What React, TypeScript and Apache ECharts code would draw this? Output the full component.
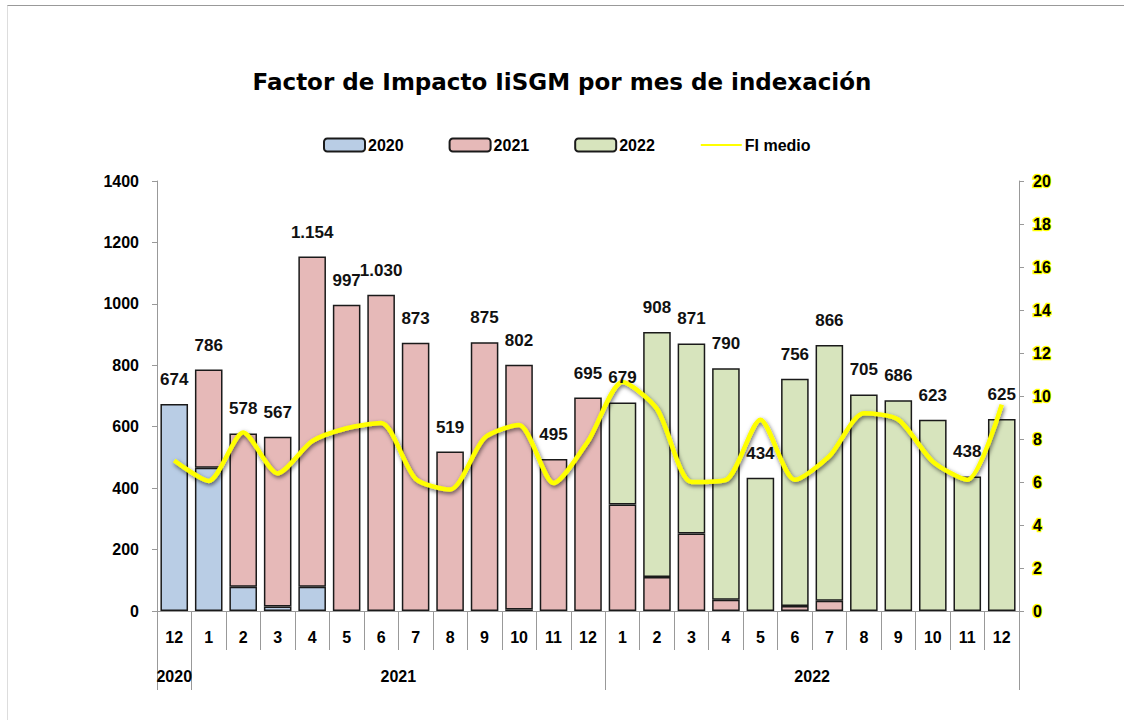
import React, { useEffect, useRef } from "react";
import * as echarts from "echarts";

const months = ["12", "1", "2", "3", "4", "5", "6", "7", "8", "9", "10", "11", "12", "1", "2", "3", "4", "5", "6", "7", "8", "9", "10", "11", "12"];
const years = ["2020", "2021", "2022"];
// index where each year's label sits (group centre) and group start indices
const yearLabelIndex = [0, 6, 18];
const yearGroupStarts = [0, 1, 13];

const pub2020 = [674, 466, 79, 15, 79, null, null, null, null, null, 5, null, null, null, null, null, null, null, null, null, null, null, null, null, null];
const pub2021 = [null, 320, 499, 552, 1075, 997, 1030, 873, 519, 875, 797, 495, 695, 347, 111, 252, 37, null, 16, 33, null, null, null, null, null];
const pub2022 = [null, null, null, null, null, null, null, null, null, null, null, null, null, 332, 797, 619, 753, 434, 740, 833, 705, 686, 623, 438, 625];
const fiMedio = [7.0, 6.05, 8.3, 6.4, 7.9, 8.5, 8.75, 6.15, 5.65, 8.05, 8.65, 5.95, 7.9, 10.65, 9.4, 6.0, 6.1, 8.9, 6.1, 7.2, 9.2, 8.9, 6.95, 6.1, 9.6];

const leftTicks = { min: 0, max: 1400, interval: 200 };
const rightTicks = { min: 0, max: 20, interval: 2 };

const FONT = "'Liberation Sans', Arial, sans-serif";

function fmt(v: number): string {
  return String(v).replace(/\B(?=(\d{3})+(?!\d))/g, ".");
}

export default function App() {
  const ref = useRef<HTMLDivElement>(null);
  useEffect(() => {
    if (!ref.current) return;
    const chart = echarts.init(ref.current, null, { renderer: "svg" });
    const totals = months.map((_, i) => (pub2020[i] || 0) + (pub2021[i] || 0) + (pub2022[i] || 0));
    const barBase = {
      type: "bar",
      stack: "total",
      barCategoryGap: "20%",
      xAxisIndex: 0,
      yAxisIndex: 0,
    };
    chart.setOption({
      animation: false,
      backgroundColor: "#ffffff",
      title: {
        text: "Factor de Impacto IiSGM por mes de indexación",
        left: "center",
        top: 65,
        textStyle: { fontFamily: "'DejaVu Sans', sans-serif", fontWeight: "bold", fontSize: 23, color: "#000" },
      },
      legend: {
        data: ["2020", "2021", "2022", { name: "FI medio", itemStyle: { opacity: 0 } }],
        top: 132,
        left: 318,
        itemWidth: 41,
        itemHeight: 13,
        itemGap: 45,
        textStyle: { fontFamily: FONT, fontWeight: "bold", fontSize: 16, color: "#000", padding: [0, 0, 0, -2] },
      },
      grid: { left: 157, right: 105, top: 181, bottom: 109, containLabel: false },
      xAxis: [
        {
          type: "category",
          data: months,
          position: "bottom",
          axisLine: { show: true, lineStyle: { color: "#999", width: 1 } },
          axisTick: { show: true, interval: 0, length: 39, lineStyle: { color: "#999" } },
          axisLabel: { interval: 0, margin: 18, fontFamily: FONT, fontWeight: "bold", fontSize: 16, color: "#000" },
        },
        {
          type: "category",
          data: months,
          position: "bottom",
          offset: 39,
          axisLine: { show: false },
          axisTick: { show: false },
          axisLabel: {
            interval: 0,
            margin: 18,
            fontFamily: FONT,
            fontWeight: "bold",
            fontSize: 16,
            color: "#000",
            formatter: (_v: string, i: number) => {
              const k = yearLabelIndex.indexOf(i);
              if (k < 0) return "";
              return k === 0 ? years[k] : "{s|" + years[k] + "}";
            },
            rich: {
              s: { padding: [0, 0, 0, 34.5], fontFamily: FONT, fontWeight: "bold", fontSize: 16, color: "#000" },
            },
          },
        },
      ],
      yAxis: [
        {
          type: "value",
          ...leftTicks,
          position: "left",
          splitLine: { show: false },
          axisLine: { show: true, lineStyle: { color: "#999" } },
          axisTick: { show: true, inside: false, length: 5, lineStyle: { color: "#999" } },
          axisLabel: {
            margin: 18,
            fontFamily: FONT,
            fontWeight: "bold",
            fontSize: 16,
            color: "#000",
            formatter: (v: number) => String(v),
          },
        },
        {
          type: "value",
          ...rightTicks,
          position: "right",
          splitLine: { show: false },
          axisLine: { show: true, lineStyle: { color: "#999" } },
          axisTick: { show: true, inside: false, length: 5, lineStyle: { color: "#999" } },
          axisLabel: {
            margin: 14,
            fontFamily: FONT,
            fontWeight: "bold",
            fontSize: 16,
            color: "#000",
            textBorderColor: "#ffff00",
            textBorderWidth: 2.5,
          },
        },
      ],
      series: [
        {
          ...barBase,
          name: "2020",
          data: pub2020,
          itemStyle: { color: "#B9CDE5", borderColor: "#1a1a1a", borderWidth: 1.5 },
        },
        {
          ...barBase,
          name: "2021",
          data: pub2021,
          itemStyle: { color: "#E6B9B8", borderColor: "#1a1a1a", borderWidth: 1.5 },
        },
        {
          ...barBase,
          name: "2022",
          data: pub2022,
          itemStyle: { color: "#D7E4BD", borderColor: "#1a1a1a", borderWidth: 1.5 },
        },
        {
          type: "scatter",
          name: "totales",
          data: totals,
          xAxisIndex: 0,
          yAxisIndex: 0,
          symbolSize: 0,
          silent: true,
          z: 5,
          itemStyle: { opacity: 1 },
          label: {
            show: true,
            position: "top",
            distance: 16,
            formatter: (p: any) => fmt(p.value),
            fontFamily: FONT,
            fontWeight: "bold",
            fontSize: 17,
            color: "#111",
          },
        },
        {
          type: "line",
          name: "FI medio",
          data: fiMedio,
          xAxisIndex: 0,
          yAxisIndex: 1,
          symbol: "none",
          smooth: 0.25,
          z: 4,
          lineStyle: {
            color: "#FFFF00",
            width: 4.5,
            shadowColor: "rgba(0,0,0,0.6)",
            shadowBlur: 4,
            shadowOffsetX: 1,
            shadowOffsetY: 2,
          },
          itemStyle: { color: "#FFFF00" },
        },
      ],
    });

    // Year-group separators: long ticks below the month row, placed from the category scale
    const c0 = chart.convertToPixel({ xAxisIndex: 0 }, 0) as number;
    const c1 = chart.convertToPixel({ xAxisIndex: 0 }, 1) as number;
    const band = c1 - c0;
    const yBase = chart.convertToPixel({ yAxisIndex: 0 }, 0) as number;
    const boundaries = yearGroupStarts.map((i) => (chart.convertToPixel({ xAxisIndex: 0 }, i) as number) - band / 2);
    boundaries.push((chart.convertToPixel({ xAxisIndex: 0 }, months.length - 1) as number) + band / 2);
    chart.setOption({
      graphic: boundaries.map((x) => ({
        type: "line",
        shape: { x1: Math.round(x) + 0.5, y1: yBase + 39, x2: Math.round(x) + 0.5, y2: yBase + 79 },
        style: { stroke: "#999", lineWidth: 1 },
        silent: true,
      })),
    });
    return () => chart.dispose();
  }, []);
  return (
    <div style={{ position: "fixed", left: 0, top: 0, width: 1124, height: 720, background: "#fff" }}>
      <div ref={ref} style={{ position: "absolute", left: 0, top: 0, width: 1124, height: 720 }} />
      <div
        style={{
          position: "absolute",
          left: 7,
          top: 5,
          right: 0,
          bottom: 0,
          borderTop: "1px solid #999",
          borderLeft: "1px solid #ddd",
          pointerEvents: "none",
        }}
      />
    </div>
  );
}
